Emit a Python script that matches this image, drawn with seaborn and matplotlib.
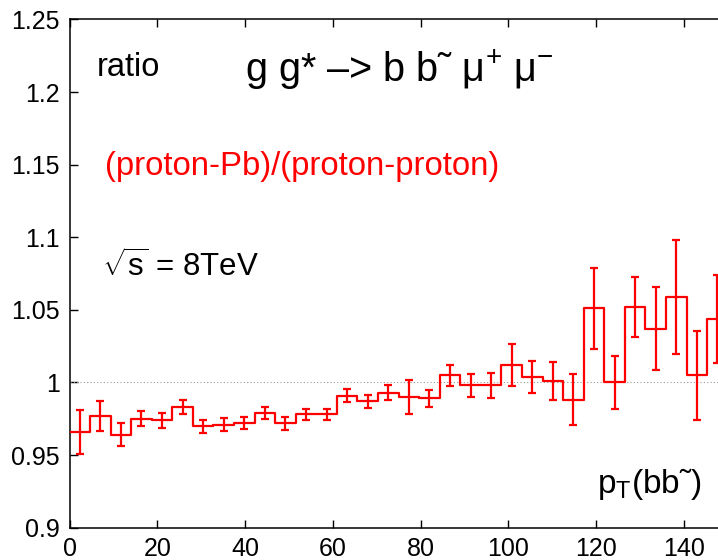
import numpy as np
import pandas as pd
import matplotlib
matplotlib.use("Agg")
import matplotlib.pyplot as plt
import seaborn as sns

sns.set_style("ticks")
plt.rcParams["font.family"] = ["Liberation Sans", "DejaVu Sans"]
plt.rcParams["mathtext.fontset"] = "custom"
plt.rcParams["mathtext.rm"] = "Liberation Sans"
plt.rcParams["mathtext.it"] = "Liberation Sans"

# 32 bins of pT(bb~) from 0 to 150 GeV
n_bins = 32
pt_range = (0, 150)
pt_edges = np.linspace(pt_range[0], pt_range[1], n_bins + 1)
pt_centers = 0.5 * (pt_edges[:-1] + pt_edges[1:])

ratio = [0.966, 0.977, 0.964, 0.975, 0.974, 0.983, 0.970, 0.971,
         0.972, 0.979, 0.972, 0.978, 0.978, 0.991, 0.987, 0.993,
         0.990, 0.989, 1.005, 0.998, 0.998, 1.012, 1.004, 1.001,
         0.988, 1.051, 1.000, 1.052, 1.037, 1.059, 1.005, 1.044]

ratio_err = [0.0152, 0.0102, 0.0078, 0.0052, 0.0053, 0.0050, 0.0045, 0.0042,
             0.0039, 0.0040, 0.0045, 0.0038, 0.0038, 0.0042, 0.0043, 0.0050,
             0.0115, 0.0057, 0.0071, 0.0080, 0.0088, 0.0147, 0.0111, 0.0134,
             0.0176, 0.0278, 0.0184, 0.0204, 0.0285, 0.0394, 0.0308, 0.0303]

x_ticks = [0, 20, 40, 60, 80, 100, 120, 140]
y_ticks = [0.9, 0.95, 1.0, 1.05, 1.1, 1.15, 1.2, 1.25]
y_labels = ["0.9", "0.95", "1", "1.05", "1.1", "1.15", "1.2", "1.25"]

df = pd.DataFrame({"pt": pt_centers, "ratio": ratio, "err": ratio_err})

fig = plt.figure(figsize=(7.18, 5.6), dpi=100)
ax = fig.add_axes([0.0968, 0.0577, 0.9032, 0.9075])

ax.axhline(1.0, color="#999999", lw=0.8, ls=(0, (1, 2)), zorder=1)

sns.histplot(data=df, x="pt", weights="ratio", bins=n_bins, binrange=pt_range,
             element="step", fill=False, color="red", linewidth=1.6, ax=ax,
             zorder=3)
ax.errorbar(df["pt"], df["ratio"], yerr=df["err"], fmt="none", ecolor="red",
            elinewidth=1.6, capsize=3, capthick=1.6, zorder=3)

ax.set_xlim(0, 147.8)
ax.set_ylim(0.9, 1.25)
ax.set_xticks(x_ticks)
ax.set_xticklabels([str(t) for t in x_ticks])
ax.set_yticks(y_ticks)
ax.set_yticklabels(y_labels)
ax.set_xlabel("")
ax.set_ylabel("")

for side in ["left", "bottom", "top"]:
    ax.spines[side].set_color("black")
    ax.spines[side].set_linewidth(1.1)
ax.spines["right"].set_visible(False)
ax.tick_params(axis="both", direction="in", length=6, width=1, labelsize=18,
               colors="black")
ax.tick_params(axis="x", top=True, pad=7)
ax.tick_params(axis="y", pad=7)

ax.text(6.3, 1.211, "ratio", fontsize=23.5, color="black")
ax.text(40.0, 1.207, "g g* \u2013> b b\u02dc \u03bc$^{+}$ \u03bc$^{\u2212}$",
        fontsize=28.5, color="black")
ax.text(8.1, 1.143, "(proton-Pb)/(proton-proton)", fontsize=23.7, color="red")
ax.text(7.5, 1.0727, r"$\sqrt{s}$ = 8TeV", fontsize=22.5, color="black")
ax.text(120.2, 0.9237, "p$_{\\mathrm{T}}$(bb\u02dc)", fontsize=24, color="black")

plt.savefig("out.png", dpi=100)
plt.close()
